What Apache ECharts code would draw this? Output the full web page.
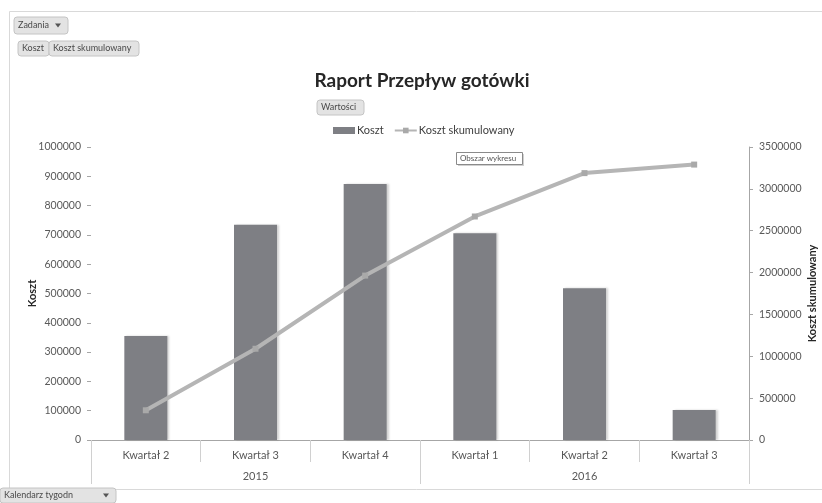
<!DOCTYPE html>
<html>
<head>
<meta charset="utf-8">
<script src="https://cdn.jsdelivr.net/npm/echarts@6/dist/echarts.min.js"></script>
<style>
html,body{margin:0;padding:0;background:#fff;}
#c{width:822px;height:503px;}
</style>
</head>
<body>
<div id="c"></div>
<script>
// ---- data ----
const quarters = ['Kwartał 2','Kwartał 3','Kwartał 4','Kwartał 1','Kwartał 2','Kwartał 3'];
const years = ['2015','2016'];
const koszt = [355000, 735000, 874000, 706000, 518000, 102000];
const kosztSkumulowany = [355000, 1090000, 1964000, 2670000, 3188000, 3290000];
const leftTicks = {min: 0, max: 1000000, interval: 100000};
const rightTicks = {min: 0, max: 3500000, interval: 500000};

const FONT = 'Lato, "Open Sans", sans-serif';
const chart = echarts.init(document.getElementById('c'));

function button(x, y, w, h, label, arrow) {
  const els = [{
    type: 'rect', shape: {x: x, y: y, width: w, height: h, r: 3},
    style: {fill: '#e3e3e3', stroke: '#c4c4c4', lineWidth: 1}
  }, {
    type: 'text', x: x + 4, y: y + h / 2,
    style: {text: label, fill: '#4a4a4a', font: '9px ' + FONT, verticalAlign: 'middle'}
  }];
  if (arrow) {
    els.push({
      type: 'polygon',
      shape: {points: [[x + w - 13, y + h / 2 - 2], [x + w - 7, y + h / 2 - 2], [x + w - 10, y + h / 2 + 2]]},
      style: {fill: '#555'}
    });
  }
  return els;
}

const graphics = [].concat(
  [{type: 'rect', shape: {x: 9.5, y: 11.5, width: 830, height: 478}, style: {fill: 'none', stroke: '#d9d9d9', lineWidth: 1}, silent: true}],
  button(14, 17, 54, 17, 'Zadania', true),
  button(18, 41, 31, 15, 'Koszt', false),
  button(49, 41, 90, 15, 'Koszt skumulowany', false),
  button(317, 100, 47, 15, 'Wartości', false),
  button(0, 488, 116, 15, 'Kalendarz tygodn', true),
  [{
    type: 'rect', shape: {x: 458, y: 154, width: 66, height: 12},
    style: {fill: '#d0d0d0'}
  }, {
    type: 'rect', shape: {x: 456.5, y: 152.5, width: 66, height: 12},
    style: {fill: '#fff', stroke: '#8a8a8a', lineWidth: 1}
  }, {
    type: 'text', x: 460, y: 158.5,
    style: {text: 'Obszar wykresu', fill: '#555', font: '8px ' + FONT, verticalAlign: 'middle'}
  }]
);

const plain = v => String(v);

chart.setOption({
  animation: false,
  textStyle: {fontFamily: FONT},
  title: {
    text: 'Raport Przepływ gotówki',
    left: 417, top: 66, textAlign: 'center',
    textStyle: {fontSize: 19, fontWeight: 'bold', color: '#262626', fontFamily: FONT}
  },
  legend: {
    left: 328, top: 120,
    itemWidth: 22, itemHeight: 7, itemGap: 10,
    textStyle: {fontSize: 11, color: '#404040', fontFamily: FONT, padding: [0, 0, 0, -3]},
    data: [{name: 'Koszt', icon: 'rect'}, {name: 'Koszt skumulowany'}]
  },
  grid: {left: 91, right: 73, top: 147, bottom: 63, containLabel: false, outerBoundsMode: 'none'},
  xAxis: [{
    type: 'category', data: quarters, position: 'bottom',
    axisLine: {show: true, lineStyle: {color: '#a6a6a6', width: 1}},
    axisTick: {show: true, length: 22, lineStyle: {color: '#d0d0d0'}},
    axisLabel: {color: '#595959', fontSize: 11, margin: 10, fontFamily: FONT}
  }, {
    type: 'category', data: years, position: 'bottom',
    axisLine: {show: false},
    axisTick: {show: true, length: 44, lineStyle: {color: '#d0d0d0'}},
    axisLabel: {color: '#595959', fontSize: 11, margin: 31, fontFamily: FONT}
  }],
  yAxis: [{
    type: 'value', position: 'left',
    min: leftTicks.min, max: leftTicks.max, interval: leftTicks.interval,
    name: 'Koszt', nameLocation: 'middle', nameGap: 53, nameRotate: 90, nameMoveOverlap: false,
    nameTextStyle: {fontWeight: 'bold', fontSize: 11, color: '#262626', fontFamily: FONT},
    axisLine: {show: false},
    axisTick: {show: true, length: 4, lineStyle: {color: '#a6a6a6'}},
    splitLine: {show: false},
    axisLabel: {color: '#595959', fontSize: 10.5, margin: 10, fontFamily: FONT, formatter: plain}
  }, {
    type: 'value', position: 'right',
    min: rightTicks.min, max: rightTicks.max, interval: rightTicks.interval,
    name: 'Koszt skumulowany', nameLocation: 'middle', nameGap: 58, nameRotate: 90, nameMoveOverlap: false,
    nameTextStyle: {fontWeight: 'bold', fontSize: 11, color: '#262626', fontFamily: FONT},
    axisLine: {show: true, lineStyle: {color: '#a6a6a6'}},
    axisTick: {show: true, length: 4, lineStyle: {color: '#a6a6a6'}},
    splitLine: {show: false},
    axisLabel: {color: '#595959', fontSize: 10.5, margin: 10, fontFamily: FONT, formatter: plain}
  }],
  series: [{
    name: 'Koszt', type: 'bar', data: koszt, xAxisIndex: 0, yAxisIndex: 0,
    barWidth: 43,
    itemStyle: {color: '#7e7f84', shadowColor: 'rgba(0,0,0,0.18)', shadowBlur: 2, shadowOffsetX: 2}
  }, {
    name: 'Koszt skumulowany', type: 'line', data: kosztSkumulowany, xAxisIndex: 0, yAxisIndex: 1,
    symbol: 'rect', symbolSize: 6,
    lineStyle: {color: '#b5b5b5', width: 4},
    itemStyle: {color: '#a9a9a9'}
  }],
  graphic: graphics
});
</script>
</body>
</html>
